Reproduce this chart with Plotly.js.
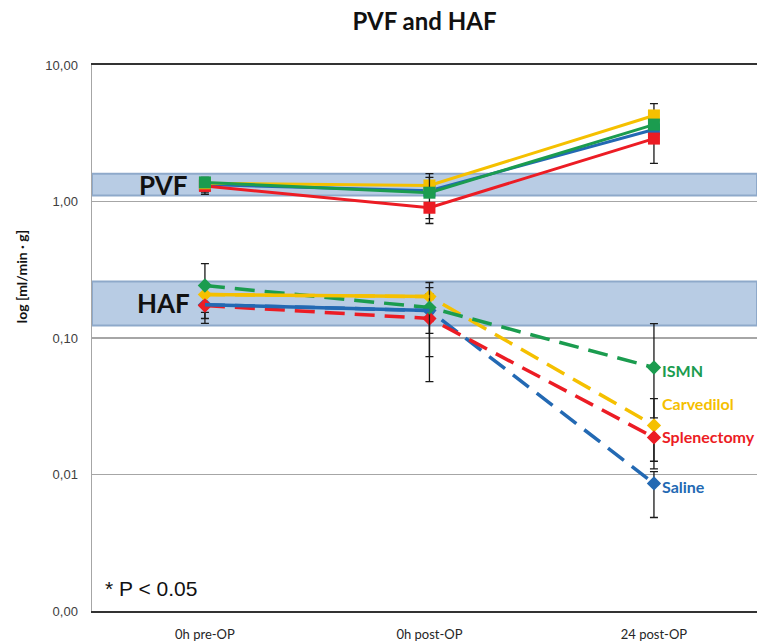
<!DOCTYPE html>
<html>
<head>
<meta charset="utf-8">
<script src="https://cdn.plot.ly/plotly-3.0.1.min.js"></script>
<style>html,body{margin:0;padding:0;background:#fff;}#chart{width:757px;height:641px;}</style>
</head>
<body>
<div id="chart"></div>
<script>
// ---- data ----
const categories = ['0h pre-OP', '0h post-OP', '24 post-OP'];
const groups = ['Saline', 'Splenectomy', 'Carvedilol', 'ISMN'];

// PVF (portal venous flow), ml/min·g
const pvfSaline      = [1.33, 1.20, 3.37];
const pvfSplenectomy = [1.30, 0.90, 2.89];
const pvfCarvedilol  = [1.36, 1.31, 4.27];
const pvfISMN        = [1.38, 1.16, 3.66];
// error bar ends (null = none)
const pvfUpSaline      = [null, null, null];
const pvfLoSaline      = [1.17, 0.75, null];
const pvfUpSplenectomy = [null, null, null];
const pvfLoSplenectomy = [1.13, 0.69, 1.90];
const pvfUpCarvedilol  = [null, 1.60, 5.22];
const pvfLoCarvedilol  = [null, null, null];
const pvfUpISMN        = [1.50, 1.50, null];
const pvfLoISMN        = [null, null, null];

// HAF (hepatic arterial flow)
const hafSaline      = [0.175, 0.159, 0.0086];
const hafSplenectomy = [0.173, 0.139, 0.0187];
const hafCarvedilol  = [0.208, 0.201, 0.0229];
const hafISMN        = [0.2425, 0.167, 0.0608];
const hafUpSaline      = [null, 0.21, 0.0105];
const hafLoSaline      = [0.139, 0.0731, 0.00484];
const hafUpSplenectomy = [null, null, null];
const hafLoSplenectomy = [0.128, 0.0479, 0.011];
const hafUpCarvedilol  = [null, 0.255, 0.036];
const hafLoCarvedilol  = [0.154, null, 0.0125];
const hafUpISMN        = [0.351, 0.234, 0.1276];
const hafLoISMN        = [null, 0.108, 0.026];

// normal-range bands
const pvfBand = [1.106, 1.60];
const hafBand = [0.1235, 0.2595];

const yTickVals = [10, 1, 0.1, 0.01, 0.001];
const yTickText = ['10,00', '1,00', '0,10', '0,01', '0,00'];
const note = '* P < 0.05';

// ---- styling ----
const colors = {Saline: '#2369b3', Splenectomy: '#ec1c24', Carvedilol: '#f5c000', ISMN: '#1b9c4f'};
const xIdx = categories.map((c, i) => i);

function errs(vals, up, lo) {
  return {
    type: 'data', symmetric: false,
    array: vals.map((v, i) => up[i] == null ? 0 : up[i] - v),
    arrayminus: vals.map((v, i) => lo[i] == null ? 0 : v - lo[i]),
    color: '#1a1a1a', thickness: 1.3, width: 4
  };
}

const pvf = {Saline: [pvfSaline, pvfUpSaline, pvfLoSaline],
             Splenectomy: [pvfSplenectomy, pvfUpSplenectomy, pvfLoSplenectomy],
             Carvedilol: [pvfCarvedilol, pvfUpCarvedilol, pvfLoCarvedilol],
             ISMN: [pvfISMN, pvfUpISMN, pvfLoISMN]};
const haf = {Saline: [hafSaline, hafUpSaline, hafLoSaline],
             Splenectomy: [hafSplenectomy, hafUpSplenectomy, hafLoSplenectomy],
             Carvedilol: [hafCarvedilol, hafUpCarvedilol, hafLoCarvedilol],
             ISMN: [hafISMN, hafUpISMN, hafLoISMN]};

const drawOrder = ['Saline', 'Splenectomy', 'Carvedilol', 'ISMN'];
const traces = [];
drawOrder.forEach(g => {
  traces.push({
    x: xIdx, y: pvf[g][0], type: 'scatter', mode: 'lines+markers', name: 'PVF ' + g,
    line: {color: colors[g], width: 3},
    marker: {symbol: 'square', size: 12, color: colors[g]},
    error_y: errs(pvf[g][0], pvf[g][1], pvf[g][2]), showlegend: false
  });
});
const hafOrder = ['Saline', 'Carvedilol', 'Splenectomy', 'ISMN'];
hafOrder.forEach(g => {
  traces.push({
    x: xIdx, y: haf[g][0], type: 'scatter', mode: 'lines+markers', name: 'HAF ' + g,
    line: {color: colors[g], width: 3.5, dash: '20px,10px'},
    marker: {symbol: 'diamond', size: 11, color: colors[g]},
    error_y: errs(haf[g][0], haf[g][1], haf[g][2]), showlegend: false
  });
});
// first segment of Saline and Carvedilol HAF is drawn solid in the reference
['Saline', 'Carvedilol'].forEach(g => {
  traces.push({
    x: xIdx.slice(0, 2), y: haf[g][0].slice(0, 2), type: 'scatter', mode: 'lines',
    line: {color: colors[g], width: 3.5}, hoverinfo: 'skip', showlegend: false
  });
});

const labelShift = {ISMN: -3, Carvedilol: 22, Splenectomy: 1, Saline: -3};
const annotations = groups.map(g => ({
  x: 2, y: Math.log10(haf[g][0][2]), xref: 'x', yref: 'y',
  text: '<b>' + g + '</b>', showarrow: false, xanchor: 'left', yanchor: 'middle',
  xshift: 6, yshift: labelShift[g],
  font: {family: 'Lato, Open Sans, sans-serif', size: 16, color: colors[g]}
}));
annotations.push(
  {x: 0.107, xref: 'paper', y: (Math.log10(pvfBand[0]) + Math.log10(pvfBand[1])) / 2, yref: 'y',
   xanchor: 'center', yanchor: 'middle',
   text: '<b>PVF</b>', showarrow: false, font: {family: 'Lato, sans-serif', size: 26, color: '#111'}},
  {x: 0.107, xref: 'paper', y: (Math.log10(hafBand[0]) + Math.log10(hafBand[1])) / 2, yref: 'y',
   xanchor: 'center', yanchor: 'middle',
   text: '<b>HAF</b>', showarrow: false, font: {family: 'Lato, sans-serif', size: 26, color: '#111'}},
  {x: 0.0165, xref: 'paper', y: 0.042, yref: 'paper', xanchor: 'left', yanchor: 'middle',
   text: note, showarrow: false, font: {family: 'Liberation Sans, Arial, sans-serif', size: 21, color: '#111'}},
  {x: -0.107, xref: 'paper', y: 0.613, yref: 'paper', textangle: -90, xanchor: 'center', yanchor: 'middle',
   text: '<b>log [ml/min · g]</b>', showarrow: false, font: {family: 'Lato, sans-serif', size: 14, color: '#111'}}
);

const shapes = [pvfBand, hafBand].map(b => ({
  type: 'rect', xref: 'paper', x0: 0, x1: 1, yref: 'y', y0: b[0], y1: b[1],
  fillcolor: '#b8cce4', line: {color: '#8ea9ca', width: 2}, layer: 'below'
}));

const layout = {
  width: 757, height: 641,
  margin: {l: 92, r: 0, t: 65, b: 30},
  paper_bgcolor: '#fff', plot_bgcolor: '#fff',
  title: {text: '<b>PVF and HAF</b>', x: 0.5, xref: 'paper', y: 0.967, yref: 'container',
          xanchor: 'center', yanchor: 'middle',
          font: {family: 'Lato, sans-serif', size: 24, color: '#111'}},
  showlegend: false,
  xaxis: {
    range: [-0.503, 2.459], tickvals: xIdx, ticktext: categories,
    showgrid: false, zeroline: false, showline: true, mirror: true,
    linecolor: '#333', linewidth: 2, ticks: '', ticklabelstandoff: 10,
    tickfont: {family: 'Lato, sans-serif', size: 13, color: '#262626'}
  },
  yaxis: {
    type: 'log', range: [-3, 1], tickvals: yTickVals, ticktext: yTickText,
    showgrid: true, gridcolor: '#a6a6a6', gridwidth: 1.5, zeroline: false,
    showline: true, linecolor: '#a6a6a6', linewidth: 1.5, ticks: '', ticklabelstandoff: 10,
    tickfont: {family: 'Liberation Sans, Arial, sans-serif', size: 13, color: '#404040'}
  },
  shapes: shapes,
  annotations: annotations
};

Plotly.newPlot('chart', traces, layout, {staticPlot: true, displayModeBar: false});
</script>
</body>
</html>
